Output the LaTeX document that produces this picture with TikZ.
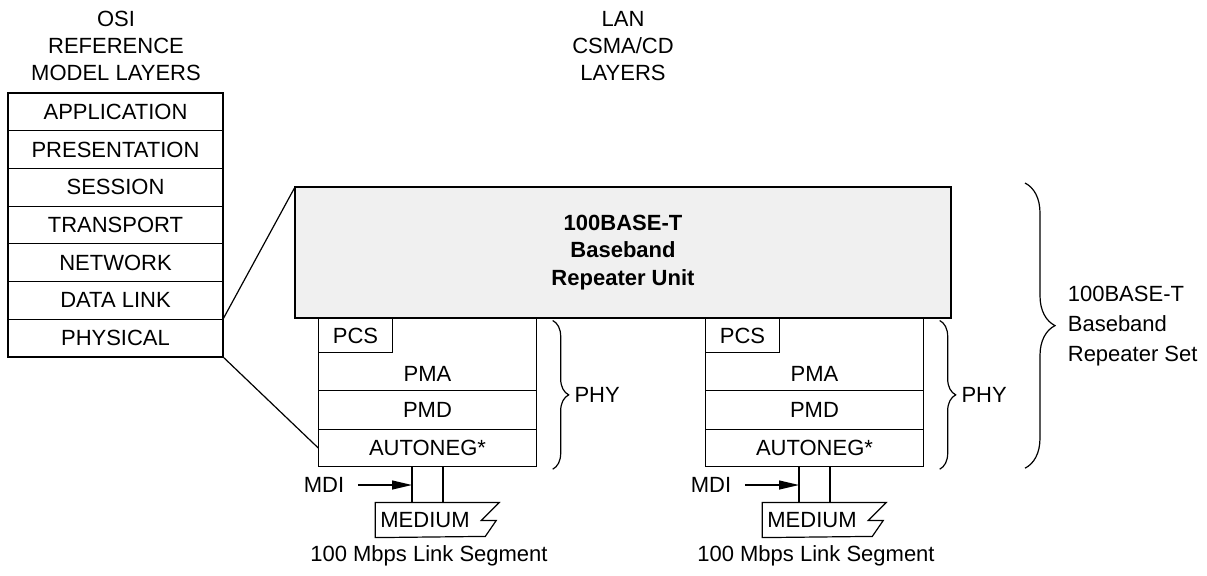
\documentclass[tikz,border=0pt]{standalone}
\usepackage{fontspec}
\setmainfont{Liberation Sans}
\usetikzlibrary{arrows.meta, positioning, calc, decorations.pathreplacing}
\definecolor{unitgray}{HTML}{F0F0F0}

\begin{document}
\begin{tikzpicture}[x=0.5pt, y=-0.5pt, line width=0.6pt,
  font=\fontsize{11}{13.5}\selectfont,
  layer/.style={draw, outer sep=0pt, inner sep=0pt, minimum width=107.5pt, minimum height=18.85pt},
  phyrow/.style={draw, outer sep=0pt, inner sep=0pt, minimum width=109.2pt},
  bracedeco/.style={decorate, decoration={brace, amplitude=#1}},
  mdiarrow/.style={-{Triangle[length=10pt, width=4.5pt]}}
]
  \useasboundingbox (0,0) rectangle (1207,575);

  % Column titles
  \node[align=center] (osititle) at (116,46) {OSI\\REFERENCE\\MODEL LAYERS};
  \node[align=center] (lantitle) at (623,46) {LAN\\CSMA/CD\\LAYERS};

  % OSI reference model layers
  \foreach \name [count=\i] in {APPLICATION, PRESENTATION, SESSION, TRANSPORT, NETWORK, DATA LINK, PHYSICAL} {
    \node[layer] (osi\i) at (115.5, {74.15+37.7*\i}) {\name};
  }

  % Repeater unit
  \node[draw, fill=unitgray, outer sep=0pt, minimum width=328pt, minimum height=65.5pt,
    align=center, font=\fontsize{11}{13.75}\selectfont\bfseries] (rep) at (623,252.5)
    {100BASE-T\\Baseband\\Repeater Unit};

  % PHY stacks and media
  \foreach \n/\x in {1/0, 2/387} {
    \node[phyrow, minimum height=36pt, anchor=north west] (pma\n) at ({318.3+\x}, 318.5) {};
    \node[draw, outer sep=0pt, inner sep=0pt, minimum width=37.2pt, minimum height=17pt,
      anchor=north west] (pcs\n) at (pma\n.north west) {PCS};
    \node (pmatext\n) at ($(pma\n.south)+(0,-17)$) {PMA};
    \node[phyrow, minimum height=19.65pt, below=0pt of pma\n] (pmd\n) {PMD};
    \node[phyrow, minimum height=18.2pt, below=0pt of pmd\n] (aneg\n) {AUTONEG*};

    % medium
    \node[inner xsep=2.25pt, inner ysep=0pt, minimum height=17pt] (med\n) at ({425+\x}, 520) {MEDIUM};
    \draw (med\n.north west) -- ++(124,0) -- ++(-18,18) -- ++(15,0) -- ++(-11,16)
      -- (med\n.south west) -- cycle;
    \draw ($(aneg\n.south)+(-15.5,0)$) coordinate (mdl\n) -- (mdl\n |- med\n.north);
    \draw ($(aneg\n.south)+(15.5,0)$) coordinate (mdr\n) -- (mdr\n |- med\n.north);

    % MDI
    \node[inner xsep=6.5pt] (mdi\n) at ({324+\x}, 485) {MDI};
    \draw[mdiarrow] (mdi\n.east) -- (mdl\n |- mdi\n.east);

    \node (seg\n) at ({429+\x}, 556) {100 Mbps Link Segment};

    % PHY brace
    \draw[bracedeco=8pt] ($(pma\n.north east)+(16,2)$) -- node[right=7.3pt] (phy\n) {PHY}
      ($(aneg\n.south east)+(16,3)$);
  }

  % Repeater set brace
  \draw[bracedeco=15pt] ($(rep.north east)+(74,-4)$) -- node[right=17.8pt, align=left,
    font=\fontsize{11}{15}\selectfont] (repset) {100BASE-T\\Baseband\\Repeater Set}
    ($(rep.north east |- aneg2.south)+(74,2)$);

  % Zoom lines
  \draw (osi6.south east) -- (rep.north west);
  \draw (osi7.south east) -- (aneg1.west);
\end{tikzpicture}
\end{document}
